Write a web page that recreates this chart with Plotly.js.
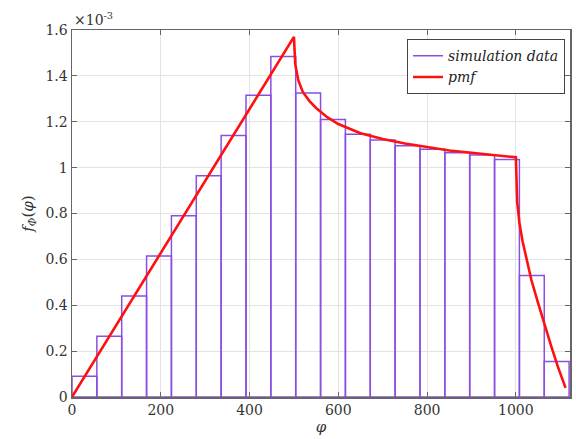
<!DOCTYPE html>
<html><head><meta charset="utf-8">
<script src="https://cdn.plot.ly/plotly-3.0.1.min.js"></script>
<style>html,body{margin:0;padding:0;background:#fff}#chart{width:576px;height:439px}</style>
</head><body><div id="chart"></div>
<script>
// histogram bins (units of 1e-3)
const binEdgeStart = 0;
const binWidth = 56;
const simValues = [0.09, 0.265, 0.44, 0.615, 0.79, 0.965, 1.14, 1.315, 1.485, 1.325,
                   1.21, 1.145, 1.12, 1.095, 1.08, 1.065, 1.055, 1.035, 0.53, 0.155];
// pmf curve (units of 1e-3)
const pmfX = [0, 500, 503, 510, 520, 535, 550, 575, 600, 650, 700, 750, 800, 850, 900, 950, 1000,
              1003, 1008, 1015, 1025, 1035, 1050, 1065, 1080, 1095, 1112];
const pmfY = [0, 1.57, 1.45, 1.38, 1.33, 1.29, 1.26, 1.22, 1.19, 1.15, 1.125, 1.105, 1.09, 1.075, 1.065, 1.055, 1.045,
              0.85, 0.76, 0.68, 0.59, 0.51, 0.41, 0.31, 0.22, 0.13, 0.04];
const xTicks = [0, 200, 400, 600, 800, 1000];
const yTicks = [0, 0.2, 0.4, 0.6, 0.8, 1, 1.2, 1.4, 1.6];
const yTickText = ['0', '0.2', '0.4', '0.6', '0.8', '1', '1.2', '1.4', '1.6'];

const binCenters = simValues.map((v, i) => binEdgeStart + binWidth * (i + 0.5));
const font = 'DejaVu Serif';
const purple = '#8a4fe0';

const traces = [
  {type: 'bar', x: binCenters, y: simValues, width: binWidth, showlegend: false,
   marker: {color: 'rgba(255,255,255,0)', line: {color: purple, width: 1.5}}},
  {type: 'scatter', mode: 'lines', x: [null], y: [null], name: '<i>simulation data</i>',
   line: {color: purple, width: 1.5}},
  {type: 'scatter', mode: 'lines', x: pmfX, y: pmfY, name: '<i>pmf</i>',
   line: {color: '#ff1010', width: 2.6}}
];

const axisCommon = {
  showline: true, mirror: 'ticks', linecolor: '#666', linewidth: 1.5,
  ticks: 'inside', ticklen: 5, tickcolor: '#666',
  showgrid: true, gridcolor: '#e3e3e3', gridwidth: 1, zeroline: false,
  tickfont: {family: font, size: 14, color: '#333'}
};

const layout = {
  width: 576, height: 439,
  margin: {l: 72, r: 6, t: 30, b: 42},
  paper_bgcolor: '#fff', plot_bgcolor: '#fff',
  showlegend: true,
  bargap: 0,
  font: {family: font},
  xaxis: Object.assign({}, axisCommon, {
    range: [0, 1122], tickvals: xTicks,
    title: {text: '<i>φ</i>', font: {family: font, size: 15, color: '#333'}, standoff: 2}
  }),
  yaxis: Object.assign({}, axisCommon, {
    range: [0, 1.6], tickvals: yTicks, ticktext: yTickText,
    title: {text: '<i>f</i><sub><i>Φ</i></sub>(<i>φ</i>)', font: {family: font, size: 15, color: '#333'}, standoff: 8}
  }),
  legend: {
    x: 0.99, y: 0.975, xanchor: 'right', yanchor: 'top',
    bgcolor: '#fff', bordercolor: '#444', borderwidth: 1,
    font: {family: font, size: 14, color: '#222'},
    tracegroupgap: 0
  },
  annotations: [{
    xref: 'paper', yref: 'paper', x: 0, y: 1, xanchor: 'left', yanchor: 'bottom',
    text: '×10<sup>-3</sup>', showarrow: false, font: {family: font, size: 14, color: '#333'}
  }]
};

Plotly.newPlot('chart', traces, layout, {displayModeBar: false, staticPlot: true});
</script>
</body></html>
